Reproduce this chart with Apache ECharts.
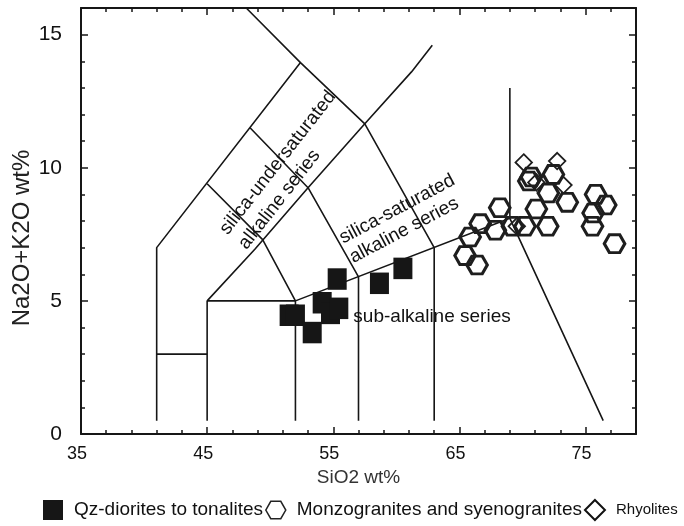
<!DOCTYPE html>
<html>
<head>
<meta charset="utf-8">
<script src="https://cdn.jsdelivr.net/npm/echarts@6/dist/echarts.min.js"></script>
<style>
  html, body { margin: 0; padding: 0; background: #ffffff; }
  #chart { width: 684px; height: 526px; }
</style>
</head>
<body>
<div id="chart"></div>
<script>
// Sample compositions: [SiO2 wt%, Na2O+K2O wt%]
const qzDioriteTonalite = [
  [51.5, 4.46], [52.0, 4.46], [53.33, 3.81], [54.12, 4.93], [54.78, 4.53],
  [55.44, 4.72], [55.31, 5.82], [58.66, 5.66], [60.52, 6.22]
];
const monzoSyenogranite = [
  [68.2, 8.5], [66.65, 7.9], [65.85, 7.4], [67.85, 7.65], [65.45, 6.7],
  [66.4, 6.35], [69.2, 7.8], [70.2, 7.8], [72.0, 7.8], [71.1, 8.45],
  [72.05, 9.05], [73.55, 8.7], [70.7, 9.65], [70.5, 9.5], [72.45, 9.75],
  [75.8, 9.0], [76.6, 8.6], [75.6, 8.3], [75.55, 7.8], [77.3, 7.15]
];
const rhyolite = [
  [70.1, 10.2], [72.75, 10.25], [71.1, 9.45], [73.25, 9.35], [69.55, 7.8]
];

// Field boundaries of the alkali-silica diagram
const outerBoundary = [[41, 0.5], [41, 7], [52.4, 13.95]];
const lowAlkaliStep = [[41, 3], [45, 3]];
const ultrabasicEdge = [[45, 0.5], [45, 5], [52, 5]];
const alkalineDivide = [[52, 0.5], [52, 5], [69, 8.1]];
const innerDiagonal = [[45, 5], [48.8, 6.95], [53, 9.25], [57.5, 11.65], [61.2, 13.6], [62.85, 14.6]];
const crossLineA = [[45, 9.4], [49.4, 7.3], [52, 5]];
const crossLineB = [[48.4, 11.5], [53, 9.25], [57, 5.9], [57, 0.5]];
const crossLineC = [[48.1, 16], [52.4, 13.95], [57.5, 11.65], [63, 7], [63, 0.5]];
const acidEdge = [[69, 13], [69, 8.1], [76.4, 0.5]];
const boundaries = [outerBoundary, lowAlkaliStep, ultrabasicEdge, alkalineDivide,
  innerDiagonal, crossLineA, crossLineB, crossLineC, acidEdge];

// Field names and where they sit (data units)
const fieldNames = ['silica-undersaturated\nalkaline series', 'silica-saturated\nalkaline series', 'sub-alkaline series'];
const fieldAnchors = [[47.05, 7.3], [56.0, 6.95], [62.83, 4.39]];
const fieldAngles = [52, 28, 0];

// Axis ranges and tick steps
const xRange = [35, 79];
const yRange = [0, 16];
const xMajor = 10, xMinor = 2;
const yMajor = 5, yMinor = 1;

const seriesNames = ['Qz-diorites to tonalites', 'Monzogranites and syenogranites', 'Rhyolites'];

const FONT = "'Liberation Sans', Arial, Helvetica, sans-serif";
const INK = '#161616';
const HEX = 'path://M0,8.66L5,0L15,0L20,8.66L15,17.32L5,17.32Z';

function frameAxis(dim, position, step, tickLen, withLine) {
  const range = dim === 'x' ? xRange : yRange;
  return {
    type: 'value',
    position: position,
    min: range[0],
    max: range[1],
    interval: step,
    splitLine: { show: false },
    axisLine: { show: withLine, onZero: false, lineStyle: { color: INK, width: 2 } },
    axisTick: { show: true, inside: true, length: tickLen, lineStyle: { color: INK, width: 1.5 } },
    axisLabel: { show: false }
  };
}

const xAxes = [
  frameAxis('x', 'bottom', xMajor, 7, true),
  frameAxis('x', 'top', xMajor, 7, true),
  frameAxis('x', 'bottom', xMinor, 4, false),
  frameAxis('x', 'top', xMinor, 4, false)
];
xAxes[0].axisLabel = {
  show: true, showMaxLabel: false, margin: 11, fontSize: 18,
  fontFamily: FONT, color: '#111111', padding: [0, 8, 0, 0]
};
xAxes[0].name = 'SiO2 wt%';
xAxes[0].nameLocation = 'middle';
xAxes[0].nameGap = 33;
xAxes[0].nameTextStyle = { fontSize: 19, fontFamily: FONT, color: '#333333' };

const yAxes = [
  frameAxis('y', 'left', yMajor, 7, true),
  frameAxis('y', 'right', yMajor, 7, true),
  frameAxis('y', 'left', yMinor, 4, false),
  frameAxis('y', 'right', yMinor, 4, false)
];
yAxes[0].axisLabel = {
  show: true, showMaxLabel: false, margin: 19, fontSize: 21,
  fontFamily: FONT, color: '#111111'
};
yAxes[0].name = 'Na2O+K2O wt%';
yAxes[0].nameLocation = 'middle';
yAxes[0].nameGap = 47;
yAxes[0].nameMoveOverlap = false;
yAxes[0].nameTextStyle = { fontSize: 24, fontFamily: FONT, color: '#222222', padding: [0, 34, 0, 0] };

const series = [];

boundaries.forEach(function (pts) {
  series.push({
    type: 'line',
    data: pts,
    symbol: 'none',
    silent: true,
    z: 1,
    lineStyle: { color: INK, width: 1.6 }
  });
});

series.push({
  type: 'scatter',
  silent: true,
  z: 2,
  symbolSize: 0,
  itemStyle: { color: '#111111', opacity: 1 },
  data: fieldAnchors.map(function (p, i) {
    return {
      value: p,
      label: {
        show: true,
        position: 'inside',
        formatter: fieldNames[i],
        rotate: fieldAngles[i],
        align: fieldAngles[i] === 0 ? 'center' : 'left',
        verticalAlign: 'middle',
        fontSize: 19,
        lineHeight: fieldAngles[i] === 52 ? 24 : 22,
        fontFamily: FONT,
        color: '#111111',
        opacity: 1,
        textBorderWidth: 0,
        textBorderColor: 'transparent'
      }
    };
  })
});

series.push({
  name: seriesNames[0],
  type: 'scatter',
  z: 3,
  symbol: 'rect',
  symbolSize: [19, 21.5],
  itemStyle: { color: INK, opacity: 1 },
  data: qzDioriteTonalite
});
series.push({
  name: seriesNames[1],
  type: 'scatter',
  z: 4,
  symbol: HEX,
  symbolSize: [20.5, 17.8],
  itemStyle: { color: 'transparent', borderColor: '#1e1e1e', borderWidth: 3, opacity: 1 },
  data: monzoSyenogranite
});
series.push({
  name: seriesNames[2],
  type: 'scatter',
  z: 5,
  symbol: 'diamond',
  symbolSize: 16.5,
  itemStyle: { color: 'transparent', borderColor: '#1e1e1e', borderWidth: 1.8, opacity: 1 },
  data: rhyolite
});

const chart = echarts.init(document.getElementById('chart'), null, { renderer: 'canvas' });
chart.setOption({
  animation: false,
  backgroundColor: '#ffffff',
  grid: { left: 81, right: 48, top: 8, bottom: 92, containLabel: false, outerBoundsMode: 'none' },
  xAxis: xAxes,
  yAxis: yAxes,
  legend: {
    left: 43,
    right: 0,
    top: 499,
    padding: 0,
    itemGap: 2,
    itemWidth: 20,
    itemHeight: 20,
    selectedMode: false,
    textStyle: { fontSize: 19, fontFamily: FONT, color: '#111111', padding: [0, 0, 0, 6] },
    data: [
      { name: seriesNames[0], icon: 'rect', itemStyle: { color: INK } },
      { name: seriesNames[1], icon: HEX, itemStyle: { color: 'transparent', borderColor: '#222222', borderWidth: 1.5 } },
      { name: seriesNames[2], icon: 'diamond', itemStyle: { color: 'transparent', borderColor: '#111111', borderWidth: 2 },
        textStyle: { fontSize: 15, padding: [0, 0, 0, 6] } }
    ]
  },
  series: series
});
</script>
</body>
</html>
